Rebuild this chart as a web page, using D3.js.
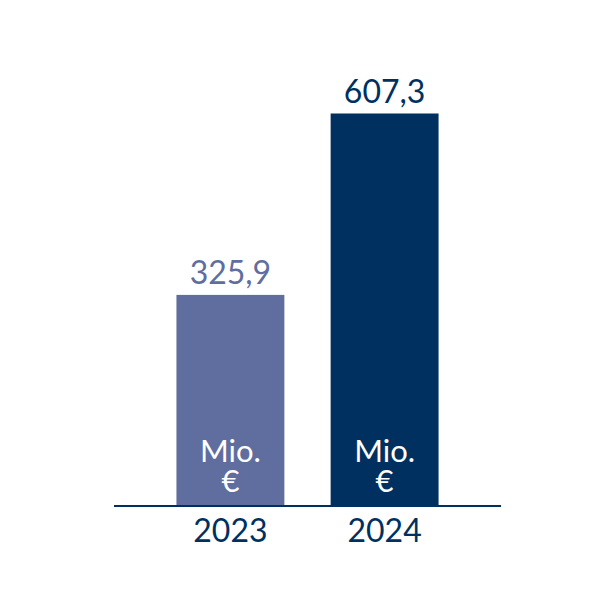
<!DOCTYPE html>
<html>
<head>
    <meta charset="utf-8">
    <title>Mio. € 2023 / 2024</title>
    <script src="https://cdn.jsdelivr.net/npm/d3@7"></script>
    <style>
        body { margin: 0; background: #ffffff; }
    </style>
</head>
<body>
<script>
    var years = ["2023", "2024"];
    var values = [325.9, 607.3];
    var valueLabels = ["325,9", "607,3"];
    var unitLines = ["Mio.", "€"];
    var barColors = ["#5f6d9f", "#00305f"];
    var labelColors = ["#5f6d9f", "#00305f"];

    var w = 608, h = 608;
    var font = "Lato, 'Noto Sans', sans-serif";
    var navy = "#00305f";

    var svg = d3.select("body").append("svg")
        .attr("width", w)
        .attr("height", h);

    var x = d3.scaleBand()
        .domain(years)
        .range([114, 501])
        .paddingInner(0.3)
        .paddingOuter(0.405);

    var y = d3.scaleLinear()
        .domain([0, 607.3])
        .range([505, 113.5]);

    // bars
    svg.selectAll("rect.bar")
        .data(values)
        .enter()
        .append("rect")
        .attr("class", "bar")
        .attr("x", function(d, i) { return x(years[i]); })
        .attr("y", function(d) { return y(d); })
        .attr("width", x.bandwidth())
        .attr("height", function(d) { return y(0) - y(d); })
        .attr("fill", function(d, i) { return barColors[i]; });

    // value labels above bars
    svg.selectAll("text.value")
        .data(values)
        .enter()
        .append("text")
        .attr("class", "value")
        .attr("x", function(d, i) { return x(years[i]) + x.bandwidth() / 2; })
        .attr("y", function(d) { return y(d) - 11; })
        .attr("text-anchor", "middle")
        .attr("font-family", font)
        .attr("font-size", 32)
        .attr("fill", function(d, i) { return labelColors[i]; })
        .text(function(d, i) { return valueLabels[i]; });

    // unit inside bars (two lines)
    years.forEach(function(yr) {
        var t = svg.append("text")
            .attr("x", x(yr) + x.bandwidth() / 2)
            .attr("y", 462)
            .attr("text-anchor", "middle")
            .attr("font-family", font)
            .attr("font-size", 31)
            .attr("fill", "#ffffff");
        unitLines.forEach(function(s, j) {
            t.append("tspan")
                .attr("x", x(yr) + x.bandwidth() / 2)
                .attr("dy", j === 0 ? 0 : 30)
                .text(s);
        });
    });

    // baseline
    svg.append("line")
        .attr("x1", 114).attr("x2", 501)
        .attr("y1", y(0) + 1).attr("y2", y(0) + 1)
        .attr("stroke", navy)
        .attr("stroke-width", 2);

    // year axis
    var xAxis = d3.axisBottom(x).tickSize(0).tickPadding(0);
    var g = svg.append("g")
        .attr("transform", "translate(0," + 519 + ")")
        .call(xAxis);
    g.select(".domain").remove();
    g.selectAll("text")
        .attr("dy", "0.71em")
        .attr("font-family", font)
        .attr("font-size", 32)
        .attr("fill", navy);
</script>
</body>
</html>
